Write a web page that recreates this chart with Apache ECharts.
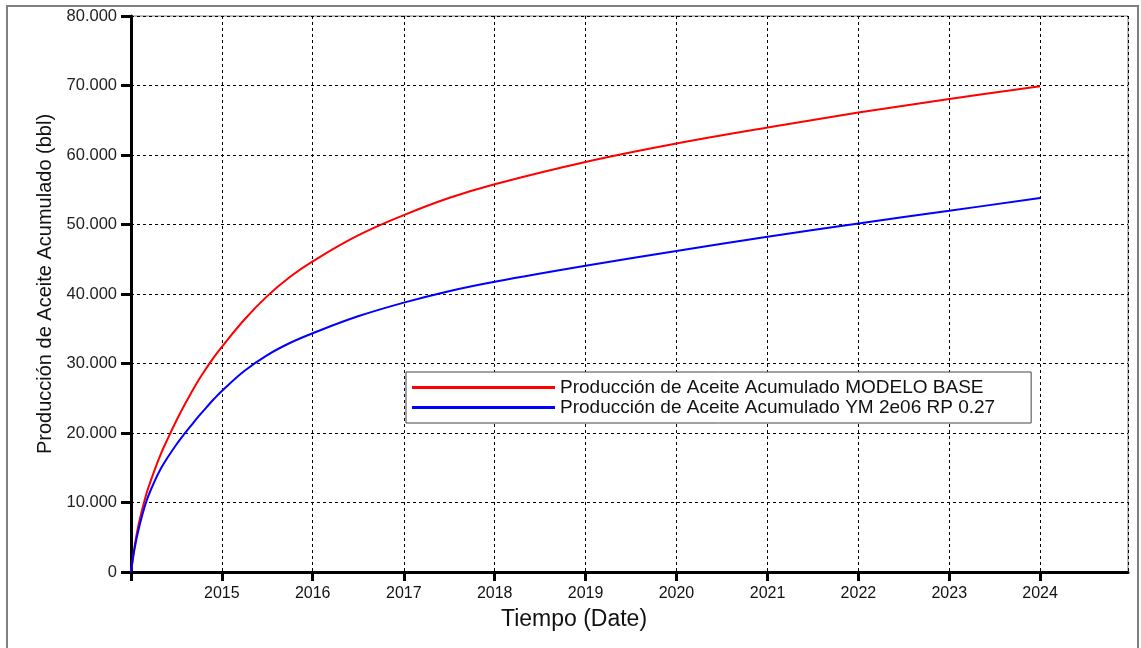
<!DOCTYPE html>
<html>
<head>
<meta charset="utf-8">
<script src="https://cdn.jsdelivr.net/npm/echarts@6/dist/echarts.min.js"></script>
<style>
html,body{margin:0;padding:0;background:#fff;}
#chart{width:1141px;height:648px;}
</style>
</head>
<body>
<div id="chart"></div>
<script>
const yTicks = [0, 10000, 20000, 30000, 40000, 50000, 60000, 70000, 80000];
const xYearLabels = ['2015','2016','2017','2018','2019','2020','2021','2022','2023','2024'];

const seriesNames = [
  'Producción de Aceite Acumulado MODELO BASE',
  'Producción de Aceite Acumulado YM 2e06 RP 0.27'
];

const dates = ['2014-01-01','2014-01-15','2014-02-01','2014-03-01','2014-04-01','2014-05-01','2014-06-01','2014-07-01','2014-08-01','2014-09-01','2014-10-01','2014-11-01','2014-12-01','2015-01-01','2015-04-01','2015-07-01','2015-10-01','2016-01-01','2016-07-01','2017-01-01','2017-07-01','2018-01-01','2019-01-01','2020-01-01','2021-01-01','2022-01-01','2023-01-01','2024-01-01'];
const baseValues = [0,3550,6900,10900,14200,17000,19450,21700,23850,25850,27700,29400,30950,32400,36300,39660,42450,44700,48420,51350,53810,55800,59000,61650,63950,66100,68050,69900];
const ymValues = [0,3300,6180,9880,12680,14880,16680,18280,19760,21140,22460,23720,24920,26050,28930,31180,32950,34360,36790,38760,40410,41770,44070,46180,48240,50160,51980,53800];

const zip = (d, v) => d.map((x, i) => [x, v[i]]);
const fmtThousands = v => String(v).replace(/\B(?=(\d{3})+(?!\d))/g, '.');
const FONT = '"Liberation Sans", Arial, sans-serif';

const chart = echarts.init(document.getElementById('chart'), null, {renderer: 'canvas'});
chart.setOption({
  animation: false,
  backgroundColor: '#fff',
  textStyle: {fontFamily: FONT},
  graphic: [{
    type: 'rect',
    shape: {x: 7, y: 6, width: 1131, height: 700},
    style: {fill: 'none', stroke: '#808080', lineWidth: 2},
    z: 0
  }],
  grid: {
    left: 131, top: 16, right: 13, bottom: 76,
    show: true, borderColor: '#808080', borderWidth: 1, backgroundColor: '#fff'
  },
  legend: {
    orient: 'vertical',
    left: 406, top: 372,
    padding: [6, 36, 6, 6],
    itemGap: 1,
    itemWidth: 143, itemHeight: 3,
    icon: 'rect',
    borderColor: '#444', borderWidth: 1,
    backgroundColor: '#fff',
    textStyle: {fontSize: 19, color: '#111', fontFamily: FONT, lineHeight: 19},
    data: seriesNames
  },
  xAxis: {
    type: 'time',
    min: '2014-01-01',
    max: '2024-12-19',
    minInterval: 365 * 86400000,
    maxInterval: 366 * 86400000,
    name: 'Tiempo (Date)',
    nameLocation: 'middle',
    nameGap: 36,
    nameTextStyle: {fontSize: 23, color: '#111', fontFamily: FONT, padding: [0, 111, 0, 0]},
    axisLine: {show: true, onZero: false, lineStyle: {color: '#000', width: 3}},
    axisTick: {show: true, length: 9, lineStyle: {color: '#000', width: 3}},
    axisLabel: {
      fontSize: 16, color: '#111', margin: 14, fontFamily: FONT,
      showMinLabel: false, showMaxLabel: false,
      formatter: function (v) {
        const y = String(new Date(v).getFullYear());
        return xYearLabels.indexOf(y) >= 0 ? y : '';
      }
    },
    splitLine: {show: true, lineStyle: {color: '#000', type: [3, 3], width: 1}}
  },
  yAxis: {
    type: 'value',
    min: yTicks[0], max: yTicks[yTicks.length - 1], interval: 10000,
    name: 'Producción de Aceite Acumulado (bbl)',
    nameLocation: 'middle',
    nameGap: 76,
    nameTextStyle: {fontSize: 20, color: '#111', fontFamily: FONT, padding: [0, 0, 0, 20]},
    axisLine: {show: true, lineStyle: {color: '#000', width: 3}},
    axisTick: {show: true, length: 10, lineStyle: {color: '#000', width: 3}},
    axisLabel: {fontSize: 16.5, color: '#222', margin: 14, fontFamily: FONT, formatter: fmtThousands},
    splitLine: {show: true, lineStyle: {color: '#000', type: [3, 3], width: 1}}
  },
  series: [{
    name: seriesNames[0],
    type: 'line',
    data: zip(dates, baseValues),
    showSymbol: false, symbol: 'none',
    smooth: 0.4,
    lineStyle: {color: '#ff0000', width: 2},
    itemStyle: {color: '#ff0000'},
    z: 3
  }, {
    name: seriesNames[1],
    type: 'line',
    data: zip(dates, ymValues),
    showSymbol: false, symbol: 'none',
    smooth: 0.4,
    lineStyle: {color: '#0000ff', width: 2},
    itemStyle: {color: '#0000ff'},
    z: 3
  }]
});
</script>
</body>
</html>
